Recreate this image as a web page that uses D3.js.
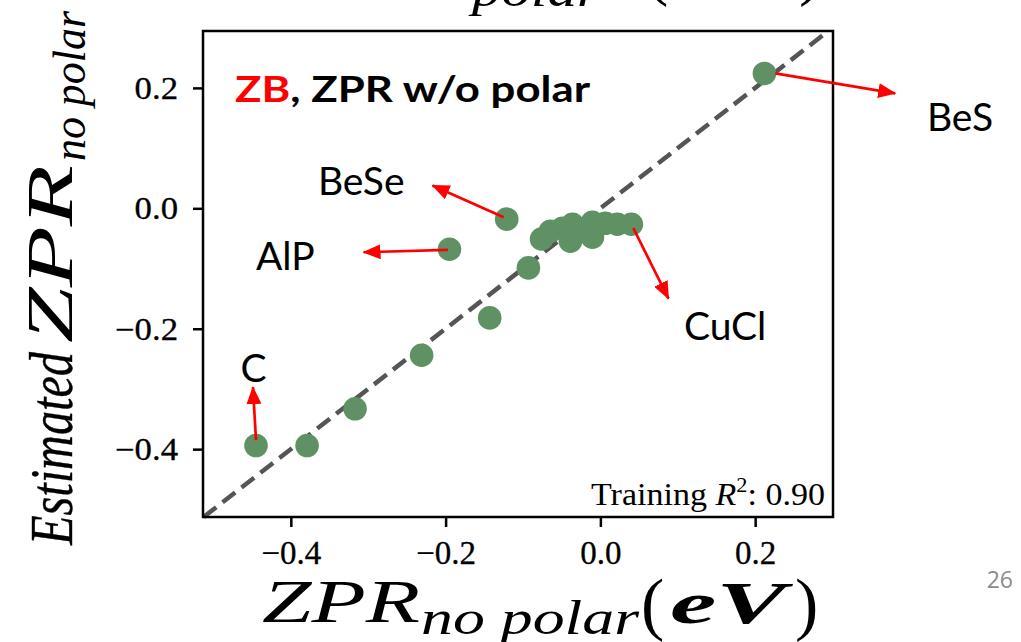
<!DOCTYPE html>
<html><head><meta charset="utf-8">
<script src="https://cdn.jsdelivr.net/npm/d3@7"></script>
<style>body{margin:0;background:#fff;} svg{display:block;}</style>
</head><body>
<script>
// ---- data ----
const actualZPR = [0.212, -0.121, -0.195, -0.093, -0.143, -0.231, -0.317, -0.379, -0.445,
  -0.076, -0.0645, -0.049, -0.0387, -0.036, -0.0206, -0.0103, -0.0103, 0.0065, 0.0219, 0.040];
const estimatedZPR = [0.224, -0.018, -0.068, -0.099, -0.182, -0.244, -0.333, -0.394, -0.394,
  -0.051, -0.038, -0.033, -0.0547, -0.0265, -0.0365, -0.0232, -0.048, -0.0249, -0.0265, -0.0265];
const xTicks = [-0.4, -0.2, 0.0, 0.2];
const yTicks = [-0.4, -0.2, 0.0, 0.2];
const annNames = ["BeS", "BeSe", "AlP", "CuCl", "C"];
const annFrom = [[0.226, 0.224], [-0.125, -0.015], [-0.197, -0.069], [0.0426, -0.033], [-0.445, -0.385]];
const annTo = [[0.381, 0.191], [-0.217, 0.038], [-0.306, -0.073], [0.088, -0.150], [-0.449, -0.297]];
const annText = [[0.422, 0.129], [-0.365, 0.0215], [-0.445, -0.103], [0.108, -0.219], [-0.465, -0.288]];
const r2Text = "0.90";

const W = 1021, H = 642;
const L = 203, R = 833, T = 31, B = 517;
const svg = d3.select("body").append("svg").attr("width", W).attr("height", H);

const x = d3.scaleLinear().domain([-0.5135, 0.3006]).range([L, R]);
const y = d3.scaleLinear().domain([-0.5127, 0.2945]).range([B, T]);
const fmt = d3.format(".1f");
const serif = "'Liberation Serif','Times New Roman',serif";
const sans = "Lato,'Open Sans',sans-serif";

// diagonal y=x
const dmin = Math.max(x.domain()[0], y.domain()[0]), dmax = Math.min(x.domain()[1], y.domain()[1]);
svg.append("line")
  .attr("x1", x(dmin)).attr("y1", y(dmin)).attr("x2", x(dmax)).attr("y2", y(dmax))
  .attr("stroke", "#555").attr("stroke-width", 4.5).attr("stroke-dasharray", "16,8");

// points
svg.append("g").selectAll("circle").data(actualZPR.map((v, i) => [v, estimatedZPR[i]]))
  .join("circle").attr("cx", d => x(d[0])).attr("cy", d => y(d[1])).attr("r", 11.8)
  .attr("fill", "#5f9164");

// axes
const xAxis = svg.append("g").attr("transform", `translate(0,${B})`)
  .call(d3.axisBottom(x).tickValues(xTicks).tickFormat(fmt).tickSize(10).tickSizeOuter(0));
xAxis.select(".domain").remove();
xAxis.selectAll(".tick line").attr("stroke", "#000").attr("stroke-width", 2.5);
xAxis.selectAll(".tick text").attr("font-family", serif).attr("font-size", 33).attr("fill", "#000")
  .attr("stroke", "#000").attr("stroke-width", 0.3)
  .attr("y", 47).attr("dy", 0);

const yAxis = svg.append("g").attr("transform", `translate(${L},0)`)
  .call(d3.axisLeft(y).tickValues(yTicks).tickFormat(fmt).tickSize(10).tickSizeOuter(0));
yAxis.select(".domain").remove();
yAxis.selectAll(".tick line").attr("stroke", "#000").attr("stroke-width", 2.5);
yAxis.selectAll(".tick text").attr("font-family", serif).attr("font-size", 31).attr("fill", "#000")
  .attr("stroke", "#000").attr("stroke-width", 0.3)
  .attr("x", -25).attr("dy", 0).attr("y", 10.5)
  .attr("textLength", function () { return this.getComputedTextLength() * 1.12; })
  .attr("lengthAdjust", "spacingAndGlyphs");

// frame
svg.append("rect").attr("x", L).attr("y", T).attr("width", R - L).attr("height", B - T)
  .attr("fill", "none").attr("stroke", "#000").attr("stroke-width", 2.5);

// title in panel
const t = svg.append("text").attr("x", 235).attr("y", 102).attr("font-family", sans)
  .attr("font-weight", "bold").attr("font-size", 36).attr("textLength", 355).attr("lengthAdjust", "spacingAndGlyphs");
t.append("tspan").attr("fill", "#ff0000").text("ZB");
t.append("tspan").attr("fill", "#000").text(", ZPR w/o polar");

// training R2
const tr = svg.append("text").attr("x", 825).attr("y", 505).attr("text-anchor", "end")
  .attr("font-family", serif).attr("font-size", 32).attr("fill", "#000")
  .attr("textLength", 234).attr("lengthAdjust", "spacingAndGlyphs");
tr.append("tspan").text("Training ");
tr.append("tspan").attr("font-style", "italic").text("R");
tr.append("tspan").attr("font-size", 21).attr("dy", -13).text("2");
tr.append("tspan").attr("dy", 13).text(": " + r2Text);

// annotation arrows
const defs = svg.append("defs");
defs.append("marker").attr("id", "ah").attr("viewBox", "0 0 18 15").attr("refX", 17).attr("refY", 7.5)
  .attr("markerWidth", 18).attr("markerHeight", 15).attr("markerUnits", "userSpaceOnUse")
  .attr("orient", "auto")
  .append("path").attr("d", "M0,0 L18,7.5 L0,15 Z").attr("fill", "#ff0000");

svg.append("g").selectAll("line").data(annNames.map((n, i) => i)).join("line")
  .attr("x1", i => x(annFrom[i][0])).attr("y1", i => y(annFrom[i][1]))
  .attr("x2", i => x(annTo[i][0])).attr("y2", i => y(annTo[i][1]))
  .attr("stroke", "#ff0000").attr("stroke-width", 2.7).attr("marker-end", "url(#ah)");

svg.append("g").selectAll("text").data(annNames.map((n, i) => i)).join("text")
  .attr("x", i => x(annText[i][0])).attr("y", i => y(annText[i][1]))
  .attr("font-family", sans).attr("font-size", 39).attr("fill", "#000")
  .text(i => annNames[i]);

// y-axis label (rotated)
const mathFont = "'Liberation Serif',serif";
const yl = svg.append("g").attr("transform", "translate(72,545) rotate(-90)")
  .attr("font-family", mathFont).attr("font-style", "italic").attr("fill", "#000");
yl.append("text").attr("x", 0).attr("y", 0).attr("font-size", 62).attr("textLength", 193)
  .attr("lengthAdjust", "spacingAndGlyphs").attr("stroke", "#000").attr("stroke-width", 0.4).text("Estimated");
yl.append("text").attr("x", 202).attr("y", 0).attr("font-size", 66).attr("textLength", 178)
  .attr("lengthAdjust", "spacingAndGlyphs").text("ZPR");
yl.append("text").attr("x", 384).attr("y", 13).attr("font-size", 46).attr("textLength", 150)
  .attr("lengthAdjust", "spacingAndGlyphs").text("no polar");

// x-axis label
const xl = svg.append("g").attr("font-family", mathFont).attr("font-style", "italic").attr("fill", "#000");
xl.append("text").attr("x", 262).attr("y", 622).attr("font-size", 62).attr("textLength", 158)
  .attr("lengthAdjust", "spacingAndGlyphs").text("ZPR");
xl.append("text").attr("x", 421).attr("y", 634).attr("font-size", 48).attr("textLength", 218)
  .attr("lengthAdjust", "spacingAndGlyphs").text("no polar");
xl.append("text").attr("x", 641).attr("y", 627).attr("font-size", 70).attr("font-style", "normal").text("(");
xl.append("text").attr("x", 670).attr("y", 623).attr("font-size", 60).attr("font-weight", "bold")
  .attr("textLength", 116).attr("lengthAdjust", "spacingAndGlyphs").text("eV");
xl.append("text").attr("x", 795).attr("y", 627).attr("font-size", 70).attr("font-style", "normal").text(")");

// cut-off text at the top
const tl = svg.append("g").attr("font-family", mathFont).attr("font-style", "italic").attr("fill", "#000");
tl.append("text").attr("x", 472).attr("y", 6).attr("font-size", 48).attr("textLength", 128)
  .attr("lengthAdjust", "spacingAndGlyphs").text("polar");
tl.append("text").attr("x", 645).attr("y", -8).attr("font-size", 70).attr("font-style", "normal").text("(");
tl.append("text").attr("x", 799).attr("y", -8).attr("font-size", 70).attr("font-style", "normal").text(")");

// page number
svg.append("text").attr("x", 1013).attr("y", 588).attr("text-anchor", "end")
  .attr("font-family", "'Open Sans',sans-serif").attr("font-size", 23).attr("fill", "#8c8c8c").text("26");
</script>
</body></html>
